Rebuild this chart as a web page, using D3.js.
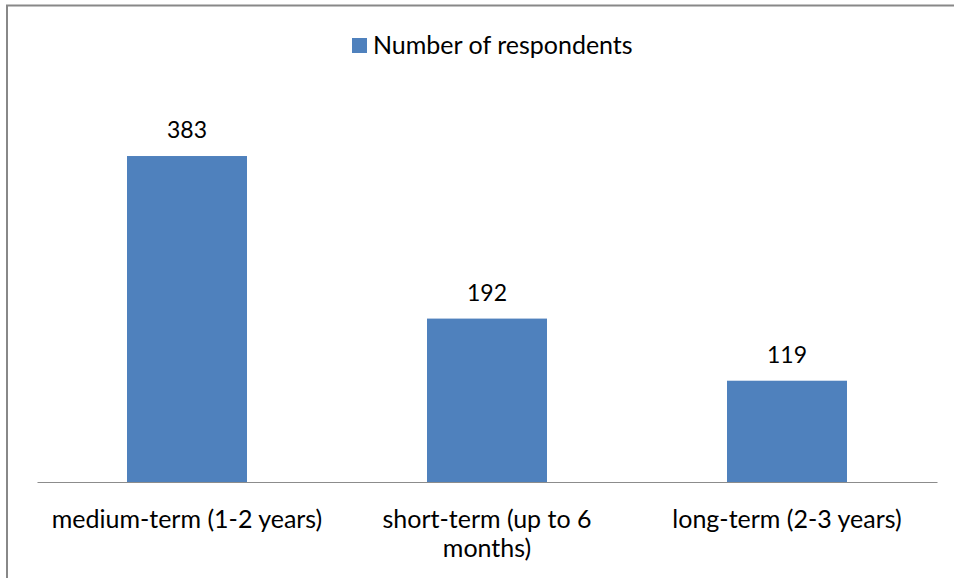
<!DOCTYPE html>
<html>
<head>
<meta charset="utf-8">
<script src="https://cdn.jsdelivr.net/npm/d3@7"></script>
<style>
  html, body { margin: 0; padding: 0; background: #fff; }
  svg { display: block; font-family: Lato, "Open Sans", sans-serif; }
</style>
</head>
<body>
<svg id="chart" width="954" height="578"></svg>
<script>
// Survey answers: preferred time horizon
const categories = ["medium-term (1-2 years)", "short-term (up to 6 months)", "long-term (2-3 years)"];
const respondents = [383, 192, 119];
const seriesName = "Number of respondents";

const W = 954, H = 578;
const svg = d3.select("#chart");
const barColor = "#4f81bd";
const axisColor = "#8c8c8c";
const labelSize = 25;

// outer frame of the chart area
svg.append("rect")
  .attr("x", 7).attr("y", 5.5)
  .attr("width", W + 20).attr("height", H + 20)
  .attr("fill", "#fff")
  .attr("stroke", "#888").attr("stroke-width", 2);

const x = d3.scaleBand()
  .domain(categories)
  .range([37, 937])
  .paddingInner(0.6)
  .paddingOuter(0.3);

const y = d3.scaleLinear()
  .domain([0, 450])
  .range([482, 99]);

// bars
svg.append("g").selectAll("rect")
  .data(categories)
  .join("rect")
  .attr("x", d => x(d))
  .attr("y", (d, i) => y(respondents[i]))
  .attr("width", x.bandwidth())
  .attr("height", (d, i) => y(0) - y(respondents[i]))
  .attr("fill", barColor);

// value labels above bars
svg.append("g").selectAll("text")
  .data(categories)
  .join("text")
  .attr("x", d => x(d) + x.bandwidth() / 2)
  .attr("y", (d, i) => y(respondents[i]) - 18)
  .attr("text-anchor", "middle")
  .attr("font-size", 23)
  .attr("fill", "#000")
  .text((d, i) => respondents[i]);

// category axis
const xAxis = svg.append("g")
  .attr("transform", `translate(0,${y(0)})`)
  .call(d3.axisBottom(x).tickSize(0).tickPadding(0));
xAxis.select(".domain").attr("stroke", axisColor).attr("stroke-width", 1.2);
xAxis.selectAll(".tick text")
  .attr("font-family", "Lato, 'Open Sans', sans-serif")
  .attr("font-size", labelSize)
  .attr("fill", "#000")
  .attr("dy", null)
  .attr("y", 46)
  .call(wrap, x.step() * 0.95, 29);

function wrap(sel, width, lineH) {
  sel.each(function () {
    const t = d3.select(this);
    const words = t.text().split(/\s+/);
    const y0 = +t.attr("y");
    t.text(null);
    let line = [];
    let n = 0;
    let span = t.append("tspan").attr("x", 0).attr("y", y0);
    for (const w of words) {
      line.push(w);
      span.text(line.join(" "));
      if (span.node().getComputedTextLength() > width && line.length > 1) {
        line.pop();
        span.text(line.join(" "));
        line = [w];
        n++;
        span = t.append("tspan").attr("x", 0).attr("y", y0 + n * lineH).text(w);
      }
    }
  });
}

// legend
const legend = svg.append("g");
legend.append("rect")
  .attr("x", 352).attr("y", 38)
  .attr("width", 15).attr("height", 15)
  .attr("fill", barColor);
legend.append("text")
  .attr("x", 373).attr("y", 54)
  .attr("font-size", labelSize)
  .attr("fill", "#000")
  .text(seriesName);
</script>
</body>
</html>
